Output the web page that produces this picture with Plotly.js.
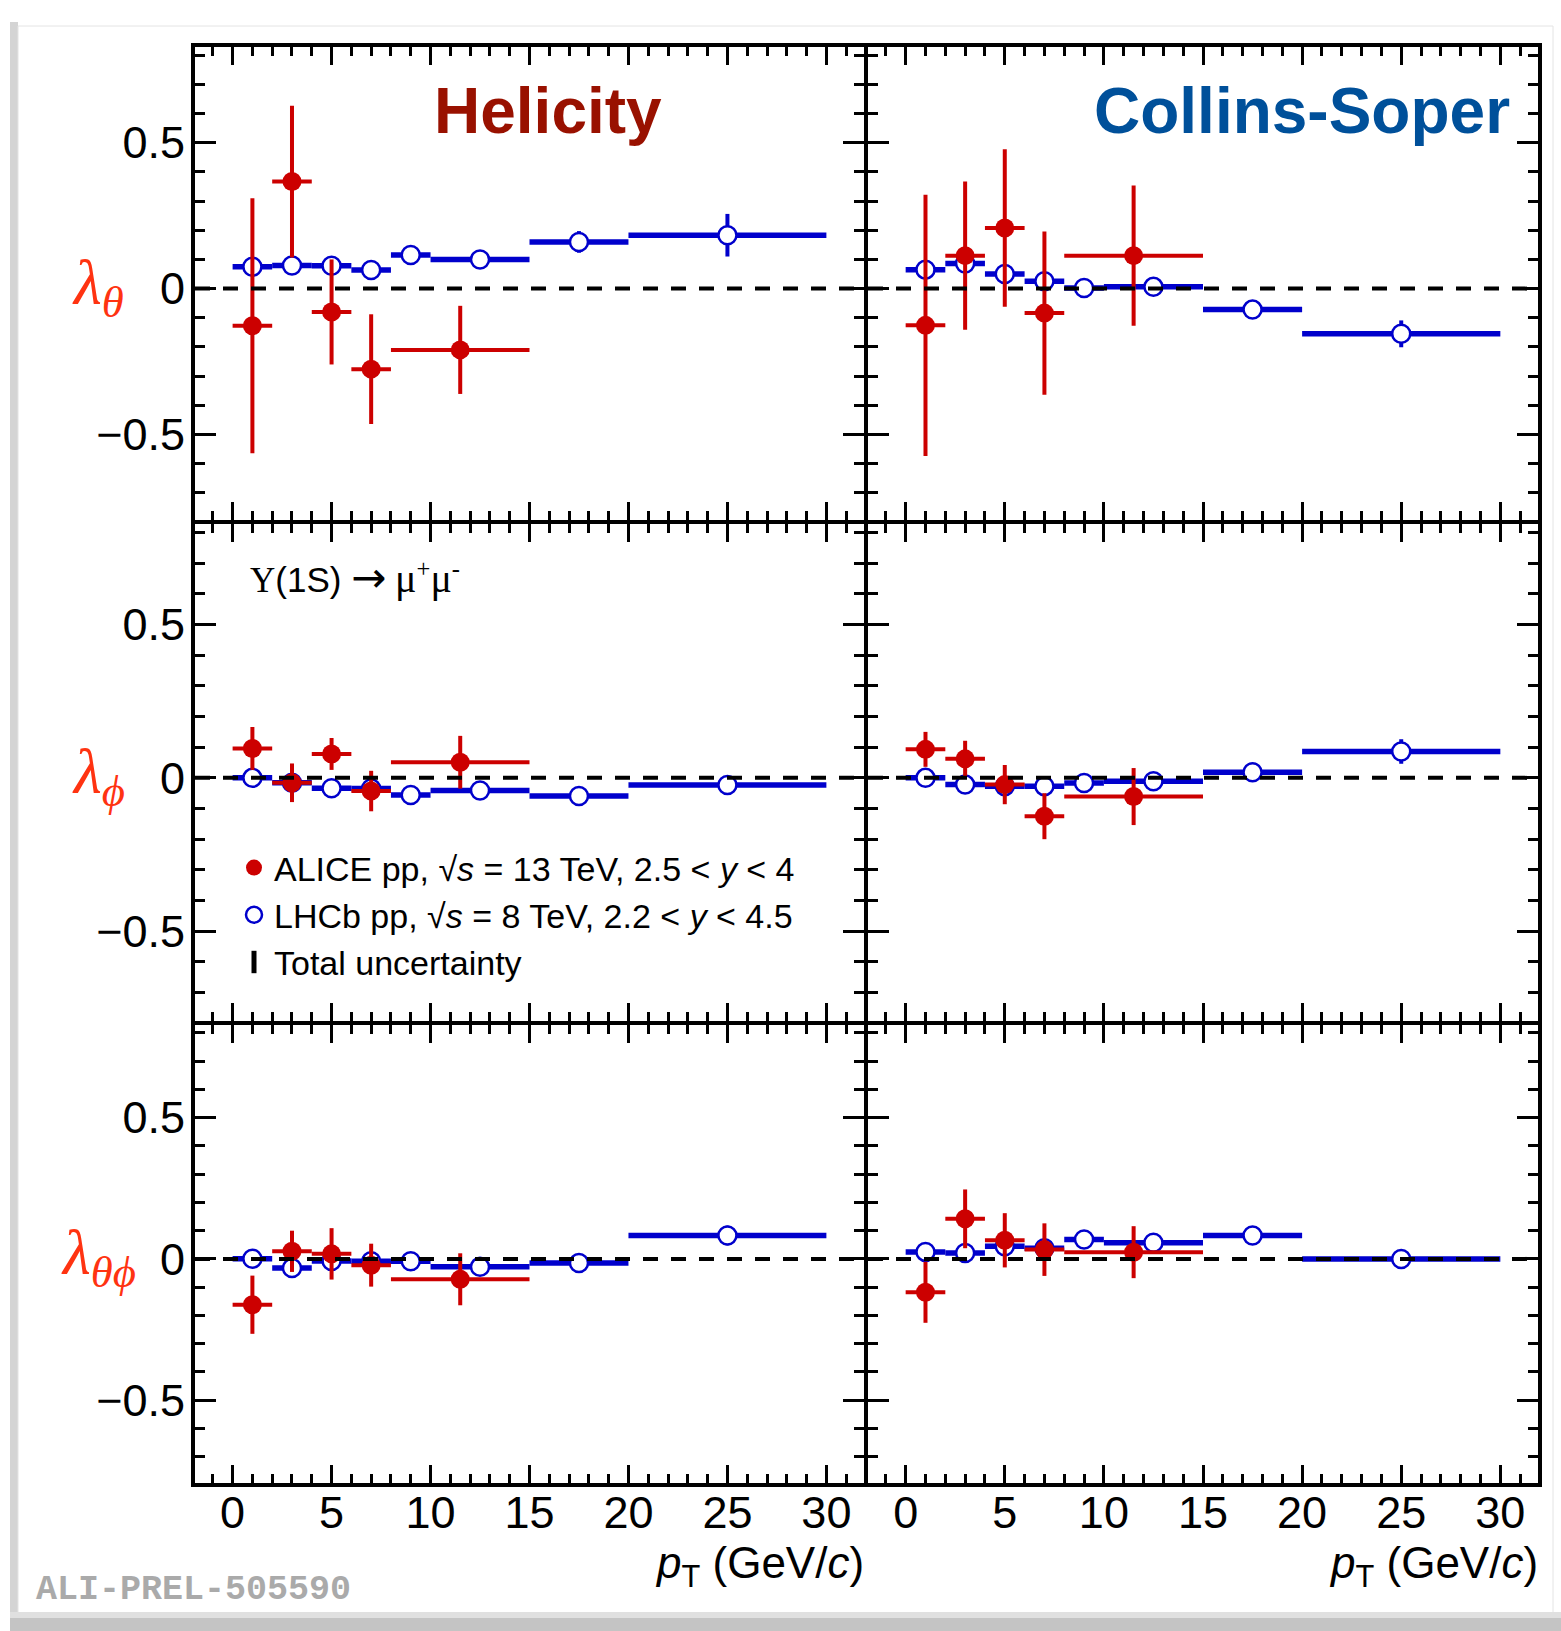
<!DOCTYPE html>
<html>
<head>
<meta charset="utf-8">
<script src="https://cdn.plot.ly/plotly-3.0.1.min.js"></script>
<style>html,body{margin:0;padding:0;background:#fff;}#chart{width:1561px;height:1631px;}</style>
</head>
<body>
<div id="chart"></div>
<script>
// ---------------- data ----------------
// ALICE pp 13 TeV bins (GeV/c)
const aliceX   = [1, 3, 5, 7, 11.5];
const aliceLo  = [0, 2, 4, 6, 8];
const aliceHi  = [2, 4, 6, 8, 15];
// LHCb pp 8 TeV bins (GeV/c)
const lhcbX    = [1, 3, 5, 7, 9, 12.5, 17.5, 25];
const lhcbLo   = [0, 2, 4, 6, 8, 10, 15, 20];
const lhcbHi   = [2, 4, 6, 8, 10, 15, 20, 30];

// ALICE values and total uncertainties
const aliceHxTheta     = [-0.127, 0.367, -0.080, -0.276, -0.210];
const aliceHxThetaErr  = [0.437, 0.260, 0.180, 0.188, 0.151];
const aliceCsTheta     = [-0.126, 0.113, 0.208, -0.084, 0.113];
const aliceCsThetaErr  = [0.448, 0.254, 0.270, 0.280, 0.240];
const aliceHxPhi       = [0.096, -0.016, 0.078, -0.043, 0.051];
const aliceHxPhiErr    = [0.070, 0.063, 0.052, 0.066, 0.086];
const aliceCsPhi       = [0.093, 0.062, -0.022, -0.125, -0.061];
const aliceCsPhiErr    = [0.057, 0.059, 0.064, 0.075, 0.093];
const aliceHxThetaPhi    = [-0.162, 0.027, 0.018, -0.022, -0.072];
const aliceHxThetaPhiErr = [0.103, 0.073, 0.091, 0.076, 0.092];
const aliceCsThetaPhi    = [-0.118, 0.142, 0.066, 0.033, 0.024];
const aliceCsThetaPhiErr = [0.108, 0.104, 0.096, 0.093, 0.092];

// LHCb values and total uncertainties
const lhcbHxTheta     = [0.075, 0.079, 0.078, 0.064, 0.115, 0.100, 0.160, 0.183];
const lhcbHxThetaErr  = [0.020, 0.020, 0.020, 0.020, 0.020, 0.020, 0.037, 0.073];
const lhcbCsTheta     = [0.065, 0.086, 0.050, 0.025, 0.002, 0.006, -0.072, -0.155];
const lhcbCsThetaErr  = [0.020, 0.020, 0.020, 0.020, 0.020, 0.020, 0.025, 0.046];
const lhcbHxPhi       = [0.000, -0.016, -0.034, -0.035, -0.056, -0.041, -0.059, -0.023];
const lhcbHxPhiErr    = [0.010, 0.010, 0.010, 0.010, 0.010, 0.010, 0.015, 0.020];
const lhcbCsPhi       = [0.000, -0.022, -0.027, -0.027, -0.017, -0.011, 0.018, 0.086];
const lhcbCsPhiErr    = [0.010, 0.010, 0.010, 0.010, 0.010, 0.010, 0.015, 0.040];
const lhcbHxThetaPhi    = [0.001, -0.032, -0.007, -0.008, -0.008, -0.028, -0.014, 0.083];
const lhcbHxThetaPhiErr = [0.010, 0.010, 0.010, 0.010, 0.010, 0.010, 0.015, 0.035];
const lhcbCsThetaPhi    = [0.025, 0.021, 0.045, 0.038, 0.069, 0.057, 0.083, 0.000];
const lhcbCsThetaPhiErr = [0.010, 0.010, 0.010, 0.010, 0.010, 0.010, 0.015, 0.020];

const xTickVals = [0, 5, 10, 15, 20, 25, 30];
const yTickVals = [-0.5, 0, 0.5];
const yTickText = ['\u22120.5', '0', '0.5'];
const frameLabels = ['Helicity', 'Collins-Soper'];
const paramLabels = ['<i>λ</i><sub><i>θ</i></sub>', '<i>λ</i><sub><i>ϕ</i></sub>', '<i>λ</i><sub><i>θϕ</i></sub>'];
const seriesNames = ['ALICE pp, √<i>s</i> = 13 TeV, 2.5 &lt; <i>y</i> &lt; 4',
                     'LHCb pp, √<i>s</i> = 8 TeV, 2.2 &lt; <i>y</i> &lt; 4.5',
                     'Total uncertainty'];

// ---------------- layout geometry ----------------
const W = 1561, H = 1631;
const LW = 4;                       // frame line width
const colLines = [193, 866, 1540];  // frame line centres (px)
const rowLines = [45, 522, 1023, 1485];
const XR = [-1.9, 31.9], YR = [-0.793, 0.828];
const RED = '#cc0000', BLUE = '#0000cc';
const SANS = 'Liberation Sans, Arial, Helvetica, sans-serif';
const SERIF = 'Liberation Serif, Times New Roman, serif';

const panels = [
  {row: 0, col: 0, a: aliceHxTheta, ae: aliceHxThetaErr, l: lhcbHxTheta, le: lhcbHxThetaErr},
  {row: 0, col: 1, a: aliceCsTheta, ae: aliceCsThetaErr, l: lhcbCsTheta, le: lhcbCsThetaErr},
  {row: 1, col: 0, a: aliceHxPhi, ae: aliceHxPhiErr, l: lhcbHxPhi, le: lhcbHxPhiErr},
  {row: 1, col: 1, a: aliceCsPhi, ae: aliceCsPhiErr, l: lhcbCsPhi, le: lhcbCsPhiErr},
  {row: 2, col: 0, a: aliceHxThetaPhi, ae: aliceHxThetaPhiErr, l: lhcbHxThetaPhi, le: lhcbHxThetaPhiErr},
  {row: 2, col: 1, a: aliceCsThetaPhi, ae: aliceCsThetaPhiErr, l: lhcbCsThetaPhi, le: lhcbCsThetaPhiErr}
];

const data = [];
const layout = {
  width: W, height: H, autosize: false,
  margin: {l: 0, r: 0, t: 0, b: 0, pad: 0},
  paper_bgcolor: '#ffffff', plot_bgcolor: 'rgba(0,0,0,0)',
  showlegend: true,
  legend: {
    x: 234 / W, xanchor: 'left', y: 1 - 839 / H, yanchor: 'top',
    bgcolor: 'rgba(0,0,0,0)', borderwidth: 0,
    font: {family: SANS, size: 34, color: '#000'},
    tracegroupgap: 0, itemclick: false, itemdoubleclick: false
  },
  shapes: [], annotations: []
};

const axisCommon = {
  showline: true, linewidth: LW, linecolor: '#000', mirror: 'ticks',
  ticks: 'inside', tickcolor: '#000', tickwidth: 3,
  showgrid: false, zeroline: false, fixedrange: true,
  tickfont: {family: SANS, size: 45, color: '#000'}
};

panels.forEach((p, k) => {
  const i = k + 1;
  const sfx = i === 1 ? '' : String(i);
  const xa = 'x' + sfx, ya = 'y' + sfx;
  const x0 = colLines[p.col] + LW / 2, x1 = colLines[p.col + 1] - LW / 2;
  const y0 = rowLines[p.row] + LW / 2, y1 = rowLines[p.row + 1] - LW / 2;
  layout['xaxis' + sfx] = Object.assign({}, axisCommon, {
    domain: [x0 / W, x1 / W], anchor: ya, range: XR,
    tickmode: 'array', tickvals: xTickVals, ticklen: 18,
    minor: {ticks: 'inside', dtick: 1, tick0: 0, ticklen: 9, tickwidth: 3, tickcolor: '#000', showgrid: false},
    showticklabels: p.row === 2, ticklabelstandoff: -13
  });
  layout['yaxis' + sfx] = Object.assign({}, axisCommon, {
    domain: [1 - y1 / H, 1 - y0 / H], anchor: xa, range: YR,
    tickmode: 'array', tickvals: yTickVals, ticktext: yTickText, ticklen: 21,
    minor: {ticks: 'inside', dtick: 0.1, tick0: 0, ticklen: 10, tickwidth: 3, tickcolor: '#000', showgrid: false},
    showticklabels: p.col === 0, ticklabelstandoff: -3
  });

  // LHCb (drawn first)
  data.push({
    type: 'scatter', mode: 'markers', xaxis: xa, yaxis: ya,
    name: seriesNames[1], legendrank: 2, showlegend: i === 1,
    x: lhcbX, y: p.l,
    error_x: {type: 'data', symmetric: false,
      array: lhcbX.map((v, j) => lhcbHi[j] - v), arrayminus: lhcbX.map((v, j) => v - lhcbLo[j]),
      color: BLUE, thickness: 5.5, width: 0},
    error_y: {type: 'data', symmetric: true, array: p.le, color: BLUE, thickness: 4, width: 0},
    marker: {symbol: 'circle', size: 18, color: '#ffffff', line: {color: BLUE, width: 2.5}},
    hoverinfo: 'skip'
  });
  // ALICE
  data.push({
    type: 'scatter', mode: 'markers', xaxis: xa, yaxis: ya,
    name: seriesNames[0], legendrank: 1, showlegend: i === 1,
    x: aliceX, y: p.a,
    error_x: {type: 'data', symmetric: false,
      array: aliceX.map((v, j) => aliceHi[j] - v), arrayminus: aliceX.map((v, j) => v - aliceLo[j]),
      color: RED, thickness: 4, width: 0},
    error_y: {type: 'data', symmetric: true, array: p.ae, color: RED, thickness: 4, width: 0},
    marker: {symbol: 'circle', size: 19, color: RED, line: {width: 0}},
    hoverinfo: 'skip'
  });

  // dashed zero reference line
  layout.shapes.push({
    type: 'line', xref: xa, yref: ya, x0: XR[0], x1: XR[1], y0: 0, y1: 0,
    line: {color: '#000', width: 4, dash: '15px,13px'}, layer: 'above'
  });
});

// legend entry for the uncertainty bar
data.push({
  type: 'scatter', mode: 'markers', xaxis: 'x3', yaxis: 'y3',
  name: seriesNames[2], legendrank: 3, showlegend: true,
  x: [null], y: [null],
  marker: {symbol: 'line-ns-open', size: 24, color: '#000', line: {color: '#000', width: 5}},
  hoverinfo: 'skip'
});

// frame titles
layout.annotations.push({
  xref: 'paper', yref: 'paper', x: 548 / W, y: 1 - 111 / H, xanchor: 'center', yanchor: 'middle',
  text: '<b>' + frameLabels[0] + '</b>', showarrow: false,
  font: {family: SANS, size: 64, color: '#991100'}
});
layout.annotations.push({
  xref: 'paper', yref: 'paper', x: 1512 / W, y: 1 - 111 / H, xanchor: 'right', yanchor: 'middle',
  text: '<b>' + frameLabels[1] + '</b>', showarrow: false,
  font: {family: SANS, size: 64, color: '#00509a'}
});
// y titles
const yTitleCenters = [287, 776, 1257];
paramLabels.forEach((t, r) => {
  layout.annotations.push({
    xref: 'paper', yref: 'paper', x: 98 / W, y: 1 - yTitleCenters[r] / H, xanchor: 'center', yanchor: 'middle',
    text: t, showarrow: false, font: {family: SERIF, size: 64, color: '#ff3311'}
  });
});
// decay label
layout.annotations.push({
  xref: 'paper', yref: 'paper', x: 248 / W, y: 1 - 578 / H, xanchor: 'left', yanchor: 'middle',
  text: 'Υ<span style="font-family:Liberation Sans">(1S) </span><span style="font-family:DejaVu Sans;font-size:42px">→</span> <span style="font-size:40px">μ</span><sup>+</sup><span style="font-size:40px">μ</span><sup>-</sup>',
  showarrow: false, font: {family: SERIF, size: 35, color: '#000'}
});
// x titles
[866, 1540].forEach(xr => {
  layout.annotations.push({
    xref: 'paper', yref: 'paper', x: xr / W, y: 1 - 1566 / H, xanchor: 'right', yanchor: 'middle',
    text: '<i>p</i><sub>T</sub> (GeV/<i>c</i>)', showarrow: false,
    font: {family: SANS, size: 44, color: '#000'}
  });
});
// watermark
layout.annotations.push({
  xref: 'paper', yref: 'paper', x: 34 / W, y: 1 - 1590 / H, xanchor: 'left', yanchor: 'middle',
  text: '<b>ALI-PREL-505590</b>', showarrow: false,
  font: {family: 'Liberation Mono, Courier New, monospace', size: 35, color: '#aaaaaa'}
});

// page card shadow
layout.shapes.push({type: 'rect', xref: 'paper', yref: 'paper', x0: 10 / W, x1: 18 / W, y0: 1 - 1620 / H, y1: 1 - 22 / H,
  fillcolor: '#d4d4d4', line: {width: 0}, layer: 'below'});
layout.shapes.push({type: 'rect', xref: 'paper', yref: 'paper', x0: 18 / W, x1: 1553 / W, y0: 1 - 1618 / H, y1: 1 - 26 / H,
  fillcolor: 'rgba(0,0,0,0)', line: {width: 1, color: '#e4e4e4'}, layer: 'below'});
layout.shapes.push({type: 'rect', xref: 'paper', yref: 'paper', x0: 10 / W, x1: 1561 / W, y0: 1 - 1631 / H, y1: 1 - 1618 / H,
  fillcolor: '#c4c4c4', line: {width: 0}, layer: 'below'});
layout.shapes.push({type: 'rect', xref: 'paper', yref: 'paper', x0: 10 / W, x1: 1561 / W, y0: 1 - 1618 / H, y1: 1 - 1612 / H,
  fillcolor: '#e0e0e0', line: {width: 0}, layer: 'below'});

Plotly.newPlot('chart', data, layout, {staticPlot: true, displayModeBar: false});
</script>
</body>
</html>
